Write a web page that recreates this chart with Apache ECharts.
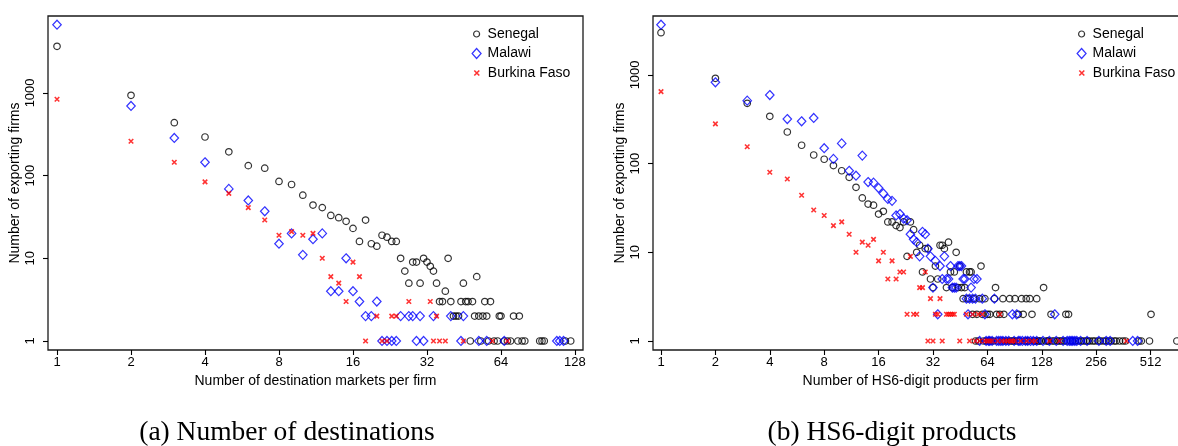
<!DOCTYPE html>
<html>
<head>
<meta charset="utf-8">
<script src="https://cdn.jsdelivr.net/npm/echarts@6/dist/echarts.min.js"></script>
<style>
  html, body { margin: 0; padding: 0; background: #fff; }
  #chart { width: 1178px; height: 446px; }
</style>
</head>
<body>
<div id="chart"></div>
<script>
// ---------- tick labels ----------
const xTicksDest = [1, 2, 4, 8, 16, 32, 64, 128];
const xTicksHS6 = [1, 2, 4, 8, 16, 32, 64, 128, 256, 512];
const yTicks = [1, 10, 100, 1000];

// ---------- series names ----------
const seriesNames = ['Senegal', 'Malawi', 'Burkina Faso'];

// ---------- panel (a): number of destinations per firm -> number of firms ----------
const destSenegal = [[1,3660],[2,935],[3,436],[4,293],[5,194],[6,132],[7,123],[8,85],[9,78],[10,58],[11,44],[12,41],[13,33],[14,31],[15,28],[16,23],[17,16],[18,29],[19,15],[20,14],[21,19],[22,18],[23,16],[24,16],[25,10],[26,7],[27,5],[28,9],[29,9],[30,5],[31,10],[32,9],[33,8],[34,7],[35,5],[36,3],[37,3],[38,4],[39,10],[40,3],[41,2],[42,2],[43,2],[44,3],[45,5],[46,3],[47,3],[48,1],[49,3],[50,2],[51,6],[52,2],[53,1],[54,2],[55,3],[56,2],[57,1],[58,3],[60,1],[62,1],[63,2],[64,2],[66,1],[68,1],[70,1],[72,2],[75,1],[76,2],[78,1],[80,1],[92,1],[94,1],[96,1],[117,1],[123,1]];
const destMalawi = [[1,6680],[2,695],[3,285],[4,145],[5,69],[6,50],[7,37],[8,15],[9,20],[10,11],[11,17],[12,20],[13,4],[14,4],[15,10],[16,4],[17,3],[18,2],[19,2],[20,3],[21,1],[22,1],[23,1],[24,1],[25,2],[27,2],[28,2],[29,1],[30,2],[31,1],[34,2],[40,2],[44,1],[45,2],[52,1],[56,1],[66,1],[108,1],[111,1],[115,1]];
const destBurkina = [[1,837],[2,260],[3,145],[4,84],[5,61],[6,41],[7,29],[8,19],[9,21],[10,19],[11,20],[12,10],[13,6],[14,5],[15,3],[16,9],[17,6],[18,1],[20,2],[21,1],[22,1],[23,2],[24,2],[27,3],[33,3],[34,1],[35,2],[36,1],[38,1],[45,1],[59,1],[68,1]];

// ---------- panel (b): number of HS6 products per firm -> number of firms ----------
const hsSenegal = [[1,2990],[2,916],[3,478],[4,341],[5,227],[6,161],[7,125],[8,112],[9,95],[10,83],[11,70],[12,54],[13,41],[14,35],[15,34],[16,27],[17,29],[18,22],[19,22],[20,20],[21,19],[22,22],[23,9],[24,22],[25,18],[26,10],[27,12],[28,6],[29,11],[30,11],[31,5],[32,4],[33,7],[34,5],[35,12],[36,12],[37,11],[38,4],[39,13],[40,6],[41,4],[42,6],[43,10],[44,4],[45,7],[46,4],[47,3],[48,4],[49,6],[50,3],[51,6],[52,6],[53,2],[54,3],[55,1],[56,2],[57,1],[58,3],[59,7],[60,2],[61,1],[62,3],[63,1],[64,2],[65,1],[66,2],[67,1],[69,1],[70,3],[71,4],[72,2],[73,1],[75,2],[77,1],[78,3],[79,2],[80,1],[83,1],[85,3],[86,1],[88,1],[90,1],[91,3],[93,1],[95,2],[96,1],[99,3],[101,2],[103,1],[105,3],[106,1],[108,1],[110,3],[113,2],[116,1],[118,1],[120,3],[122,1],[124,1],[127,1],[131,4],[135,1],[138,1],[140,1],[144,2],[146,1],[150,1],[156,1],[160,1],[164,1],[170,1],[174,2],[176,1],[180,2],[185,1],[190,1],[196,1],[205,1],[212,1],[218,1],[225,1],[230,1],[236,1],[245,1],[252,1],[262,1],[270,1],[280,1],[290,1],[300,1],[310,1],[322,1],[330,1],[345,1],[360,1],[372,1],[442,1],[455,1],[505,1],[515,2],[716,1]];
const hsMalawi = [[1,3680],[2,825],[3,512],[4,593],[5,318],[6,300],[7,327],[8,149],[9,113],[10,169],[11,83],[12,73],[13,123],[14,62],[15,61],[16,53],[17,46],[18,40],[19,38],[20,26],[21,27],[22,24],[23,23],[24,16],[25,14],[26,13],[27,9],[28,17],[29,16],[30,11],[31,9],[32,4],[33,8],[34,2],[35,7],[36,5],[37,9],[38,5],[39,5],[40,7],[41,4],[42,4],[43,4],[44,7],[45,7],[46,7],[47,5],[48,5],[49,3],[50,2],[51,3],[52,4],[53,3],[54,5],[55,3],[56,5],[58,1],[60,3],[62,2],[63,1],[65,1],[66,1],[68,1],[70,3],[72,1],[74,1],[76,1],[78,1],[81,1],[84,1],[88,2],[90,1],[93,2],[95,1],[97,1],[100,1],[104,1],[107,1],[111,1],[115,1],[120,1],[130,1],[141,1],[151,2],[154,1],[168,1],[177,1],[182,1],[186,1],[190,1],[195,1],[200,1],[210,1],[228,1],[265,1],[291,1],[306,1],[408,1],[434,1]];
const hsBurkina = [[1,647],[2,280],[3,155],[4,80],[5,67],[6,44],[7,30],[8,26],[9,20],[10,22],[11,16],[12,10],[13,13],[14,12],[15,14],[16,8],[17,10],[18,5],[19,8],[20,5],[21,6],[22,6],[23,2],[24,9],[25,2],[26,2],[27,4],[28,4],[29,6],[30,1],[31,3],[32,1],[33,2],[34,2],[35,3],[36,1],[38,2],[39,2],[40,2],[41,2],[42,2],[45,1],[49,2],[51,1],[53,2],[55,1],[57,2],[58,1],[60,2],[62,1],[64,1],[66,1],[68,1],[73,1],[75,2],[77,1],[80,1],[83,1],[86,1],[88,1],[91,1],[98,1],[106,1],[113,1],[118,1],[141,1],[160,1],[376,1]];

// ---------- captions / titles ----------
const yTitle = 'Number of exporting firms';
const xTitleDest = 'Number of destination markets per firm';
const xTitleHS6 = 'Number of HS6-digit products per firm';
const captionA = '(a) Number of destinations';
const captionB = '(b) HS6-digit products';

// ---------- styling ----------
const SANS = '"Liberation Sans", Arial, Helvetica, sans-serif';
const SERIF = '"Liberation Serif", "Times New Roman", serif';
const CROSS = 'path://M0,0L10,10M10,0L0,10';
const styles = {
  'Senegal': { symbol: 'circle', size: 6.5, color: '#000000', width: 1.2 },
  'Malawi': { symbol: 'diamond', size: [8.5, 9], color: '#0000ff', width: 1.2 },
  'Burkina Faso': { symbol: CROSS, size: 4.5, color: '#ff0000', width: 1.6 }
};

function scatter(name, data, idx) {
  const s = styles[name];
  return {
    type: 'scatter', name: name, data: data,
    xAxisIndex: idx, yAxisIndex: idx,
    symbol: s.symbol, symbolSize: s.size,
    itemStyle: { color: 'rgba(0,0,0,0)', borderColor: s.color, borderWidth: s.width },
    emphasis: { disabled: true },
    silent: true
  };
}

function xAxis(idx, min, max, ticks, title) {
  return {
    type: 'log', logBase: 2, gridIndex: idx, min: min, max: max,
    name: title, nameLocation: 'middle', nameGap: 22,
    nameTextStyle: { fontFamily: SANS, fontSize: 14, color: '#000' },
    axisLine: { show: false },
    axisTick: { show: true, length: 5, customValues: ticks, lineStyle: { color: '#000', width: 1.1 } },
    axisLabel: { customValues: ticks, fontFamily: SANS, fontSize: 13, color: '#000', margin: 6,
                 formatter: function (v) { return String(Math.round(v)); } },
    splitLine: { show: false }, minorTick: { show: false }
  };
}

function yAxis(idx, min, max) {
  return {
    type: 'log', logBase: 10, gridIndex: idx, min: min, max: max,
    name: yTitle, nameLocation: 'middle', nameGap: 26,
    nameTextStyle: { fontFamily: SANS, fontSize: 14, color: '#000' },
    axisLine: { show: false },
    axisTick: { show: true, length: 5, customValues: yTicks, lineStyle: { color: '#000', width: 1.1 } },
    axisLabel: { customValues: yTicks, rotate: 90, fontFamily: SANS, fontSize: 13, color: '#000', margin: 11,
                 formatter: function (v) { return String(Math.round(v)); } },
    splitLine: { show: false }, minorTick: { show: false }
  };
}

function legends(cx) {
  const items = [
    { name: 'Senegal', icon: 'circle', w: 6, h: 6, cy: 34 },
    { name: 'Malawi', icon: 'diamond', w: 9, h: 10, cy: 53.5 },
    { name: 'Burkina Faso', icon: CROSS, w: 5, h: 5, cy: 73 }
  ];
  return items.map(function (it) {
    const s = styles[it.name];
    return {
      orient: 'vertical', left: cx - it.w / 2, top: it.cy - 7, padding: 0,
      itemWidth: it.w, itemHeight: it.h, selectedMode: false,
      textStyle: { fontFamily: SANS, fontSize: 14, color: '#000', padding: [0, 0, 0, 6 - it.w / 2] },
      data: [{ name: it.name, icon: it.icon,
               itemStyle: { color: 'rgba(0,0,0,0)', borderColor: s.color, borderWidth: s.width } }]
    };
  });
}

const chart = echarts.init(document.getElementById('chart'), null, { renderer: 'canvas' });
chart.setOption({
  animation: false,
  backgroundColor: '#ffffff',
  grid: [
    { left: 48, top: 16, width: 535, height: 334, show: true, borderColor: '#1a1a1a', borderWidth: 1.3,
      containLabel: false, outerBoundsMode: 'none' },
    { left: 653, top: 16, width: 535, height: 334, show: true, borderColor: '#1a1a1a', borderWidth: 1.3,
      containLabel: false, outerBoundsMode: 'none' }
  ],
  xAxis: [
    xAxis(0, 0.919, 138, xTicksDest, xTitleDest),
    xAxis(1, 0.903, 825, xTicksHS6, xTitleHS6)
  ],
  yAxis: [
    yAxis(0, 0.778, 8511),
    yAxis(1, 0.7916, 4613)
  ],
  legend: legends(476).concat(legends(1081)),
  series: [
    scatter(seriesNames[0], destSenegal, 0),
    scatter(seriesNames[1], destMalawi, 0),
    scatter(seriesNames[2], destBurkina, 0),
    scatter(seriesNames[0], hsSenegal, 1),
    scatter(seriesNames[1], hsMalawi, 1),
    scatter(seriesNames[2], hsBurkina, 1)
  ],
  graphic: [
    { type: 'text', x: 287, y: 433, silent: true,
      style: { text: captionA, fontFamily: SERIF, fontSize: 27.5, fill: '#000', align: 'center', verticalAlign: 'middle' } },
    { type: 'text', x: 892, y: 433, silent: true,
      style: { text: captionB, fontFamily: SERIF, fontSize: 27.5, fill: '#000', align: 'center', verticalAlign: 'middle' } }
  ]
});
</script>
</body>
</html>
